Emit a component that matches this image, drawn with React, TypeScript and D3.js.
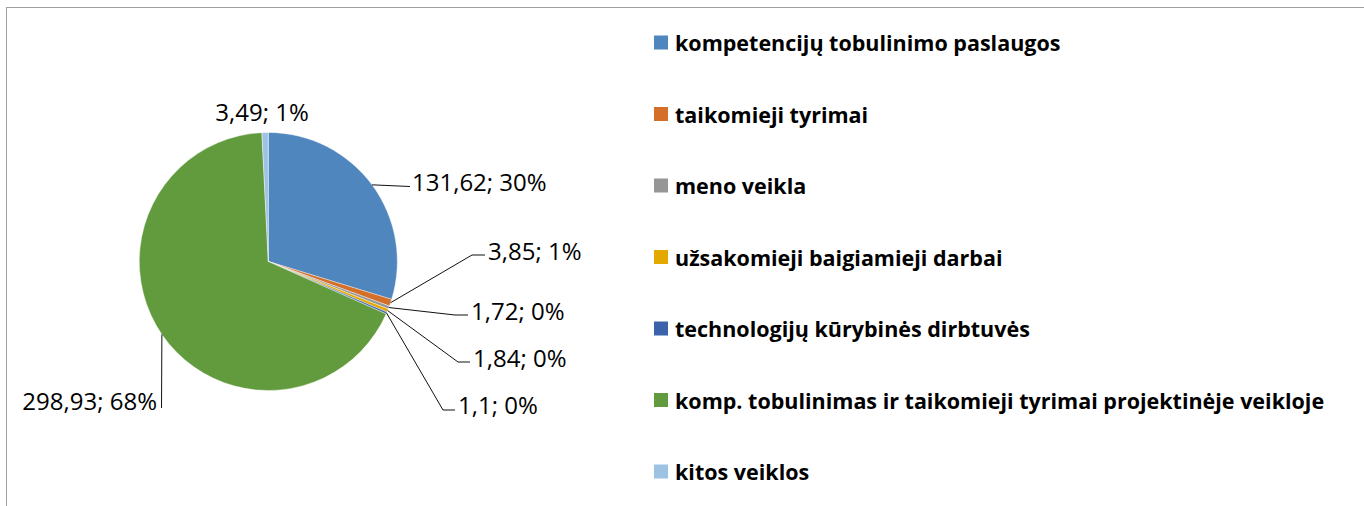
import React from "react";
import * as d3 from "d3";

const categories = [
  "kompetencijų tobulinimo paslaugos",
  "taikomieji tyrimai",
  "meno veikla",
  "užsakomieji baigiamieji darbai",
  "technologijų kūrybinės dirbtuvės",
  "komp. tobulinimas ir taikomieji tyrimai projektinėje veikloje",
  "kitos veiklos",
];
const values = [131.62, 3.85, 1.72, 1.84, 1.1, 298.93, 3.49];
const valueLabels = ["131,62", "3,85", "1,72", "1,84", "1,1", "298,93", "3,49"];
const percentLabels = ["30%", "1%", "0%", "0%", "0%", "68%", "1%"];
const colors = ["#4F86BE", "#D46F2A", "#969696", "#E3A900", "#3D62AC", "#629B3E", "#9DC2E3"];

// label layout (positions only)
type LabelLayout = { x: number; y: number; anchor: string; leader: [number, number][] | null };
const labelLayout: LabelLayout[] = [
  { x: 412, y: 181, anchor: "start", leader: [[410, 186.5]] },
  { x: 488, y: 250, anchor: "start", leader: [[472, 255], [485, 255]] },
  { x: 471, y: 310, anchor: "start", leader: [[455, 315], [468, 315]] },
  { x: 473, y: 357, anchor: "start", leader: [[458, 362], [470, 362]] },
  { x: 458, y: 404, anchor: "start", leader: [[443, 410], [455, 410]] },
  { x: 157, y: 400, anchor: "end", leader: [[161.5, 408]] },
  { x: 262, y: 111, anchor: "middle", leader: null },
];

const W = 1364;
const H = 506;
const cx = 268.3;
const cy = 261.5;
const R = 129;

export default function App() {
  const pie = d3.pie<number>().sort(null).value((d) => d).startAngle(0).endAngle(2 * Math.PI);
  const arcs = pie(values);
  const arc = d3.arc<d3.PieArcDatum<number>>().innerRadius(0).outerRadius(R);

  const legendY0 = 42.5;
  const legendStep = 71.5;

  return (
    <svg
      width={W}
      height={H}
      style={{ position: "absolute", left: 0, top: 0, background: "#fff" }}
      fontFamily="'Open Sans', sans-serif"
    >
      <rect x={0} y={0} width={W} height={H} fill="#fff" />
      <rect x={6.5} y={7.5} width={W + 50} height={H + 50} fill="none" stroke="#A0A0A0" strokeWidth={1} />
      <g transform={`translate(${cx},${cy})`}>
        {arcs.map((a, i) => (
          <path key={i} d={arc(a) || ""} fill={colors[i]} stroke="#fff" strokeWidth={0.4} />
        ))}
      </g>
      {arcs.map((a, i) => {
        const L = labelLayout[i];
        if (!L.leader) return null;
        const mid = (a.startAngle + a.endAngle) / 2;
        const sx = cx + R * Math.sin(mid);
        const sy = cy - R * Math.cos(mid);
        const pts: [number, number][] = [[sx, sy], ...L.leader];
        const line = d3.line()(pts) || "";
        return <path key={"l" + i} d={line} fill="none" stroke="#111" strokeWidth={1} />;
      })}
      {arcs.map((a, i) => {
        const L = labelLayout[i];
        return (
          <text
            key={"t" + i}
            x={L.x}
            y={L.y}
            textAnchor={L.anchor}
            dominantBaseline="central"
            fontSize={24}
            fill="#000"
          >
            {`${valueLabels[i]}; ${percentLabels[i]}`}
          </text>
        );
      })}
      {categories.map((c, i) => {
        const y = legendY0 + i * legendStep;
        return (
          <g key={"g" + i}>
            <rect x={654} y={y - 7} width={14} height={14} fill={colors[i]} />
            <text x={675} y={y} dominantBaseline="central" fontSize={21.5} fontWeight="bold" fill="#000">
              {c}
            </text>
          </g>
        );
      })}
    </svg>
  );
}
